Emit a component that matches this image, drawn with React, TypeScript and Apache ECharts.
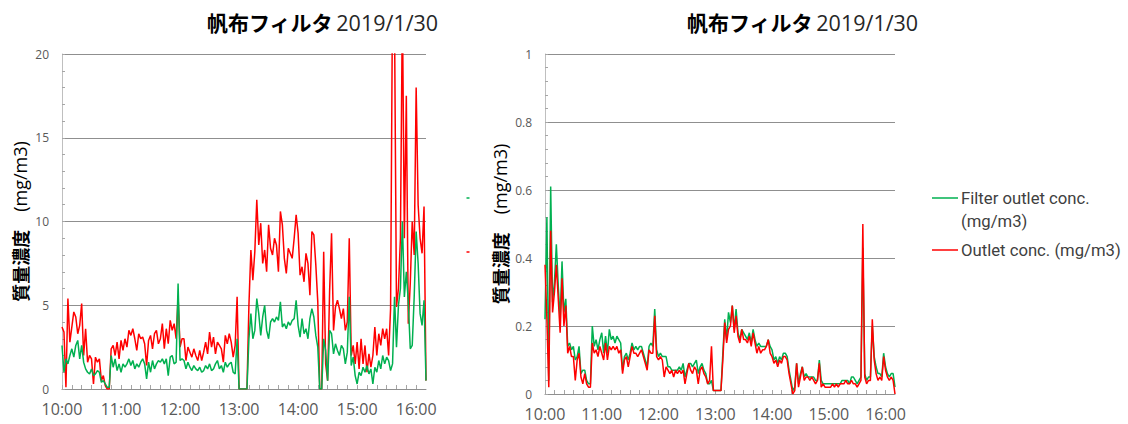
import React, { useEffect, useRef } from 'react';
import * as echarts from 'echarts';

const TIME_LABELS = ['10:00', '11:00', '12:00', '13:00', '14:00', '15:00', '16:00'];
const SAMPLE_STEP_MIN = 2;
const X_MAX_MIN = 370;

const TITLE_NAME = '帆布フィルタ';
const TITLE_DATE = '2019/1/30';
const Y_NAME_JA = '質量濃度';
const Y_NAME_UNIT = '(mg/m3)';
const LEGEND_FILTER_1 = 'Filter outlet conc.';
const LEGEND_FILTER_2 = '(mg/m3)';
const LEGEND_OUTLET = 'Outlet conc. (mg/m3)';

const LEFT_Y_TICKS = [0, 5, 10, 15, 20];
const RIGHT_Y_TICKS = [0, 0.2, 0.4, 0.6, 0.8, 1];

// Left chart: values every 2 minutes from 10:00
const LEFT_OUTLET = [
  3.7, 3.4, 0.1, 5.4, 2.8, 3.7, 4.6, 4.3, 3.3, 3.8,
  5.1, 2.0, 3.6, 1.6, 2.0, 1.8, 0.3, 1.9, 1.6, 1.8,
  0.5, 0.8, 0.2, 0.0, 0.0, 2.4, 2.6, 2.0, 2.8, 1.8,
  2.9, 2.3, 3.0, 2.5, 3.5, 3.2, 3.6, 3.0, 2.3, 3.3,
  3.0, 3.1, 2.7, 1.4, 2.9, 3.2, 2.4, 3.3, 3.5, 2.7,
  3.0, 3.9, 2.4, 3.6, 2.7, 4.1, 3.5, 3.9, 3.0, 5.5,
  2.5, 3.0, 3.0, 1.7, 2.5, 2.2, 1.9, 2.4, 2.0, 1.7,
  2.3, 1.7, 2.2, 2.8, 2.1, 3.4, 2.5, 3.1, 2.1, 2.8,
  2.6, 2.4, 1.6, 3.2, 2.7, 3.3, 2.8, 1.9, 2.6, 5.5,
  0.0, 0.0, 0.0, 0.0, 0.0, 5.0, 8.3, 6.5, 8.2, 11.3,
  8.6, 9.9, 7.5, 8.3, 7.0, 9.8, 8.4, 8.0, 9.0, 8.6,
  7.0, 10.6, 9.8, 7.8, 6.9, 8.4, 8.1, 7.8, 9.0, 10.4,
  9.3, 6.8, 7.3, 6.4, 8.1, 7.5, 5.6, 9.4, 9.2, 7.4,
  5.2, 0.0, 0.0, 8.2, 1.5, 0.5, 5.8, 9.3, 3.5, 4.9,
  5.3, 4.8, 4.2, 4.8, 3.5, 4.0, 9.0, 2.0, 2.6, 1.5,
  2.8, 1.2, 3.0, 1.5, 2.6, 1.0, 2.1, 1.3, 2.0, 3.7,
  2.0, 3.3, 2.6, 3.6, 3.0, 3.6, 2.0, 4.8, 24.0, 22.0,
  4.9, 6.0, 9.0, 23.0, 9.0, 17.5, 3.9, 6.3, 10.0, 8.0,
  18.0, 11.0, 9.0, 8.1, 10.9, 0.5,
];

const LEFT_FILTER = [
  2.6, 1.0, 1.8, 1.5, 2.0, 2.4, 1.9, 2.6, 2.9, 1.8,
  2.6, 1.6, 1.2, 1.0, 0.9, 1.2, 0.8, 0.9, 1.1, 1.0,
  0.4, 0.5, 0.3, 0.1, 0.1, 2.0, 1.3, 1.8, 1.1, 1.5,
  1.0, 1.5, 1.3, 1.5, 1.8, 1.4, 1.7, 1.2, 1.5, 1.3,
  1.6, 1.8, 1.5, 0.6, 1.6, 1.0, 1.7, 1.2, 1.5, 1.7,
  1.6, 1.8, 1.5, 1.8, 0.8, 1.9, 2.0, 1.5, 1.6, 6.3,
  1.7, 1.8, 1.7, 1.2, 1.6, 1.3, 1.1, 1.4, 1.2, 1.1,
  1.3, 1.0, 1.1, 1.4, 1.2, 1.5, 1.1, 1.2, 1.5, 1.7,
  1.2, 1.4, 1.0, 1.6, 1.3, 1.5, 1.6, 1.0, 0.9, 3.0,
  0.0, 0.0, 0.0, 0.0, 0.0, 3.0, 4.5, 3.0, 3.5, 5.4,
  4.5, 3.2, 4.3, 5.0, 3.5, 3.0, 4.0, 4.2, 4.0, 4.3,
  4.1, 5.2, 3.7, 3.9, 3.6, 4.0, 3.8, 4.1, 4.2, 5.3,
  3.8, 3.1, 4.2, 3.3, 3.6, 3.0, 4.2, 4.8, 4.3, 3.2,
  2.5, 0.0, 0.0, 3.0, 2.3, 0.5, 3.5, 3.3, 2.1, 2.7,
  2.3, 2.0, 2.6, 2.4, 1.5, 2.2, 5.5, 1.4, 1.9, 0.8,
  0.3, 1.0, 0.8, 1.3, 1.0, 1.4, 0.9, 1.2, 0.3, 1.3,
  1.0, 1.7, 1.2, 2.0, 1.5, 1.9, 1.7, 1.1, 1.5, 5.5,
  2.5, 5.0, 6.0, 10.0, 5.5, 7.0, 5.2, 2.4, 2.6, 5.5,
  9.4, 7.5, 4.5, 3.8, 5.3, 0.5,
];

// Right chart: values every 2 minutes from 10:00
const RIGHT_OUTLET = [
  0.38, 0.22, 0.02, 0.48, 0.24, 0.30, 0.38, 0.28, 0.18, 0.34,
  0.20, 0.26, 0.12, 0.14, 0.11, 0.11, 0.04, 0.10, 0.12, 0.05,
  0.03, 0.06, 0.03, 0.02, 0.02, 0.15, 0.12, 0.13, 0.11, 0.14,
  0.12, 0.10, 0.15, 0.10, 0.14, 0.13, 0.14, 0.13, 0.14, 0.12,
  0.13, 0.06, 0.10, 0.11, 0.08, 0.11, 0.14, 0.12, 0.12, 0.11,
  0.12, 0.13, 0.11, 0.09, 0.07, 0.13, 0.12, 0.12, 0.23, 0.11,
  0.10, 0.11, 0.10, 0.05, 0.08, 0.07, 0.06, 0.07, 0.05, 0.07,
  0.06, 0.07, 0.06, 0.07, 0.03, 0.06, 0.09, 0.07, 0.06, 0.08,
  0.07, 0.03, 0.07, 0.08, 0.06, 0.05, 0.03, 0.04, 0.14, 0.01,
  0.01, 0.01, 0.01, 0.01, 0.10, 0.21, 0.15, 0.19, 0.20, 0.26,
  0.18, 0.23, 0.17, 0.15, 0.19, 0.16, 0.16, 0.15, 0.17, 0.14,
  0.18, 0.15, 0.12, 0.14, 0.12, 0.13, 0.13, 0.14, 0.16, 0.12,
  0.11, 0.09, 0.10, 0.08, 0.10, 0.09, 0.11, 0.11, 0.10, 0.06,
  0.03, 0.00, 0.01, 0.09, 0.02, 0.05, 0.08, 0.04, 0.05, 0.05,
  0.04, 0.05, 0.04, 0.03, 0.04, 0.09, 0.02, 0.03, 0.02, 0.02,
  0.02, 0.02, 0.03, 0.02, 0.03, 0.02, 0.03, 0.03, 0.03, 0.04,
  0.03, 0.03, 0.04, 0.03, 0.03, 0.02, 0.03, 0.04, 0.50, 0.05,
  0.03, 0.04, 0.04, 0.22, 0.10, 0.06, 0.04, 0.05, 0.04, 0.11,
  0.07, 0.05, 0.04, 0.05, 0.04, 0.00,
];

const RIGHT_FILTER = [
  0.22, 0.52, 0.04, 0.61, 0.27, 0.33, 0.44, 0.32, 0.22, 0.39,
  0.24, 0.28, 0.14, 0.15, 0.13, 0.14, 0.10, 0.11, 0.14, 0.06,
  0.07, 0.07, 0.04, 0.03, 0.03, 0.20, 0.14, 0.16, 0.13, 0.16,
  0.18, 0.12, 0.17, 0.12, 0.19, 0.16, 0.17, 0.15, 0.17, 0.16,
  0.15, 0.07, 0.11, 0.12, 0.10, 0.12, 0.15, 0.13, 0.14, 0.13,
  0.14, 0.14, 0.12, 0.10, 0.08, 0.14, 0.15, 0.14, 0.25, 0.13,
  0.11, 0.12, 0.11, 0.11, 0.11, 0.08, 0.08, 0.07, 0.07, 0.07,
  0.07, 0.08, 0.07, 0.09, 0.05, 0.07, 0.09, 0.09, 0.08, 0.09,
  0.10, 0.06, 0.08, 0.09, 0.07, 0.06, 0.03, 0.03, 0.04, 0.01,
  0.01, 0.01, 0.01, 0.01, 0.12, 0.22, 0.16, 0.24, 0.21, 0.26,
  0.19, 0.25, 0.18, 0.16, 0.19, 0.18, 0.17, 0.16, 0.18, 0.15,
  0.19, 0.16, 0.14, 0.15, 0.14, 0.14, 0.14, 0.14, 0.16, 0.14,
  0.13, 0.10, 0.11, 0.09, 0.11, 0.10, 0.12, 0.12, 0.11, 0.07,
  0.04, 0.01, 0.02, 0.09, 0.03, 0.06, 0.08, 0.05, 0.06, 0.05,
  0.05, 0.05, 0.05, 0.04, 0.04, 0.10, 0.04, 0.03, 0.03, 0.03,
  0.03, 0.03, 0.03, 0.03, 0.03, 0.03, 0.03, 0.04, 0.04, 0.04,
  0.04, 0.03, 0.05, 0.05, 0.04, 0.03, 0.04, 0.05, 0.43, 0.06,
  0.04, 0.05, 0.05, 0.20, 0.11, 0.08, 0.06, 0.06, 0.05, 0.12,
  0.08, 0.06, 0.05, 0.06, 0.06, 0.02,
];

const RED = '#ff0000';
const GREEN = '#00b050';
const LABEL_COLOR = '#595959';
const GRID_COLOR = '#8f8f8f';
const NUM_FONT = '"Open Sans", "Noto Sans", sans-serif';
const JA_FONT = '"Noto Sans CJK JP", sans-serif';

const toPairs = (vals: number[]) => vals.map((v, i) => [i * SAMPLE_STEP_MIN, v]);

function xAxisFor(gridIndex: number) {
  return {
    type: 'value',
    gridIndex,
    min: 0,
    max: X_MAX_MIN,
    interval: 10,
    axisLine: { show: true, lineStyle: { color: GRID_COLOR, width: 1 } },
    axisTick: { show: true, inside: true, length: 4, lineStyle: { color: '#a6a6a6' } },
    splitLine: { show: false },
    axisLabel: {
      color: LABEL_COLOR,
      fontFamily: NUM_FONT,
      fontSize: 16,
      margin: 12,
      showMaxLabel: false,
      formatter: (v: number) => (v % 60 === 0 ? TIME_LABELS[v / 60] ?? '' : ''),
    },
  };
}

function yAxisFor(gridIndex: number, ticks: number[], nameGap: number) {
  const step = ticks[1] - ticks[0];
  return {
    type: 'value',
    gridIndex,
    min: ticks[0],
    max: ticks[ticks.length - 1],
    interval: step,
    name: `{b|${Y_NAME_JA}}{n|　${Y_NAME_UNIT}}`,
    nameLocation: 'middle',
    nameGap,
    nameRotate: 90,
    nameTextStyle: {
      rich: {
        b: { fontFamily: JA_FONT, fontWeight: 'bold', fontSize: 18, color: '#000' },
        n: { fontFamily: NUM_FONT, fontSize: 18, color: '#000' },
      },
    },
    axisLine: { show: true, lineStyle: { color: '#bfbfbf', width: 1 } },
    axisTick: { show: true, inside: true, length: 3, lineStyle: { color: '#a6a6a6' } },
    minorTick: { show: true, splitNumber: 5, length: 3, lineStyle: { color: '#a6a6a6' } },
    splitLine: { show: true, lineStyle: { color: GRID_COLOR, width: 1 } },
    axisLabel: { color: LABEL_COLOR, fontFamily: NUM_FONT, fontSize: 12, margin: 13 },
  };
}

function titleText(x: number) {
  return {
    type: 'text',
    x,
    y: 22,
    style: {
      text: `{b|${TITLE_NAME}} {n|${TITLE_DATE}}`,
      verticalAlign: 'middle',
      rich: {
        b: { fontFamily: JA_FONT, fontWeight: 'bold', fontSize: 21, fill: '#000' },
        n: { fontFamily: NUM_FONT, fontSize: 21.5, fill: '#262626' },
      },
    },
  };
}

export default function App() {
  const ref = useRef<HTMLDivElement>(null);

  useEffect(() => {
    if (!ref.current) return;
    const chart = echarts.init(ref.current, undefined, { renderer: 'svg' });
    const legendFont = '16.7px Roboto, "Noto Sans", sans-serif';
    chart.setOption({
      animation: false,
      backgroundColor: '#ffffff',
      grid: [
        { left: 62, top: 54, width: 364, height: 335 },
        { left: 545, top: 54, width: 350, height: 340 },
      ],
      xAxis: [xAxisFor(0), xAxisFor(1)],
      yAxis: [yAxisFor(0, LEFT_Y_TICKS, 33), yAxisFor(1, RIGHT_Y_TICKS, 36)],
      series: [
        {
          name: LEGEND_OUTLET, type: 'line', xAxisIndex: 0, yAxisIndex: 0,
          data: toPairs(LEFT_OUTLET), showSymbol: false, clip: true,
          lineStyle: { color: RED, width: 1.5 }, itemStyle: { color: RED },
        },
        {
          name: LEGEND_FILTER_1, type: 'line', xAxisIndex: 0, yAxisIndex: 0,
          data: toPairs(LEFT_FILTER), showSymbol: false, clip: true,
          lineStyle: { color: GREEN, width: 1.5 }, itemStyle: { color: GREEN },
        },
        {
          name: LEGEND_FILTER_1 + ' ', type: 'line', xAxisIndex: 1, yAxisIndex: 1,
          data: toPairs(RIGHT_FILTER), showSymbol: false, clip: true,
          lineStyle: { color: GREEN, width: 1.5 }, itemStyle: { color: GREEN },
        },
        {
          name: LEGEND_OUTLET + ' ', type: 'line', xAxisIndex: 1, yAxisIndex: 1,
          data: toPairs(RIGHT_OUTLET), showSymbol: false, clip: true,
          lineStyle: { color: RED, width: 1.5 }, itemStyle: { color: RED },
        },
      ],
      graphic: [
        titleText(207),
        titleText(687),
        // legend
        { type: 'line', shape: { x1: 932, y1: 198, x2: 958, y2: 198 }, style: { stroke: GREEN, lineWidth: 1.5 } },
        { type: 'text', x: 961, y: 198, style: { text: LEGEND_FILTER_1, font: legendFont, fill: '#404040', verticalAlign: 'middle' } },
        { type: 'text', x: 961, y: 221, style: { text: LEGEND_FILTER_2, font: legendFont, fill: '#404040', verticalAlign: 'middle' } },
        { type: 'line', shape: { x1: 932, y1: 250, x2: 958, y2: 250 }, style: { stroke: RED, lineWidth: 1.5 } },
        { type: 'text', x: 961, y: 250, style: { text: LEGEND_OUTLET, font: legendFont, fill: '#404040', verticalAlign: 'middle' } },
        // cut-off legend marks of the left chart
        { type: 'line', shape: { x1: 466.5, y1: 198, x2: 469.5, y2: 198 }, style: { stroke: GREEN, lineWidth: 1.5 } },
        { type: 'line', shape: { x1: 466.5, y1: 252, x2: 469.5, y2: 252 }, style: { stroke: RED, lineWidth: 1.5 } },
      ],
    });
    return () => chart.dispose();
  }, []);

  return (
    <div
      ref={ref}
      style={{ position: 'fixed', left: 0, top: 0, width: 1128, height: 424, background: '#fff' }}
    />
  );
}
